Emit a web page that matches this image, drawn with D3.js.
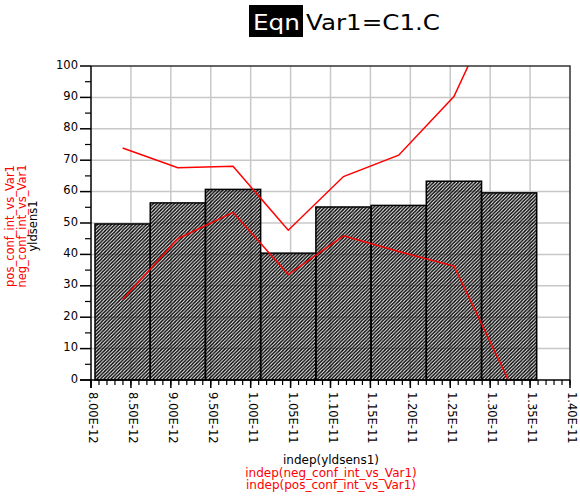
<!DOCTYPE html>
<html>
<head>
<meta charset="utf-8">
<script src="https://cdn.jsdelivr.net/npm/d3@7"></script>
<style>
  body { margin: 0; background: #fff; }
  svg { display: block; font-family: "DejaVu Sans", sans-serif; }
</style>
</head>
<body>
<div id="chart"></div>
<script>
  // histogram bins of yldsens1 (edges in seconds) and their counts
  var binEdges = [8.05e-12, 8.742e-12, 9.433e-12, 1.0125e-11, 1.0817e-11,
                  1.1508e-11, 1.2200e-11, 1.2892e-11, 1.3583e-11];
  var yldsens1 = [49.7, 56.4, 60.7, 40.4, 55.1, 55.6, 63.3, 59.6];
  // confidence intervals, one point per bin
  var posConf = [73.9, 67.6, 68.1, 47.7, 64.8, 71.6, 90.3, 128];
  var negConf = [25.6, 45.0, 53.4, 33.6, 45.9, 40.9, 36.3, -0.5];

  var xTicks = [8.0e-12, 8.5e-12, 9.0e-12, 9.5e-12, 1.0e-11, 1.05e-11, 1.1e-11,
                1.15e-11, 1.2e-11, 1.25e-11, 1.3e-11, 1.35e-11, 1.4e-11];
  var xTickLabels = ['8.00E-12', '8.50E-12', '9.00E-12', '9.50E-12', '1.00E-11', '1.05E-11',
                     '1.10E-11', '1.15E-11', '1.20E-11', '1.25E-11', '1.30E-11', '1.35E-11', '1.40E-11'];
  var yTicks = [0, 10, 20, 30, 40, 50, 60, 70, 80, 90, 100];

  (function () {
    var width = 580, height = 497;
    var pLeft = 91, pRight = 570, pTop = 66, pBottom = 380;

    var x = d3.scaleLinear().domain([8e-12, 1.4e-11]).range([pLeft, pRight]);
    var y = d3.scaleLinear().domain([0, 100]).range([pBottom, pTop]);

    var svg = d3.select('#chart').append('svg')
      .attr('width', width)
      .attr('height', height);

    var defs = svg.append('defs');
    defs.append('pattern')
      .attr('id', 'hatch')
      .attr('patternUnits', 'userSpaceOnUse')
      .attr('width', 3.5)
      .attr('height', 3.5)
      .append('path')
        .attr('d', 'M-1,1 l2,-2 M0,3.5 l3.5,-3.5 M2.5,4.5 l2,-2')
        .attr('stroke', '#000')
        .attr('stroke-width', 1.4);
    defs.append('clipPath')
      .attr('id', 'plotclip')
      .append('rect')
        .attr('x', pLeft).attr('y', pTop)
        .attr('width', pRight - pLeft).attr('height', pBottom - pTop);

    // title
    var title = svg.append('g');
    title.append('rect')
      .attr('x', 249).attr('y', 5).attr('width', 54).attr('height', 32)
      .attr('fill', '#000');
    title.append('text')
      .attr('x', 253).attr('y', 30)
      .attr('font-size', '22px')
      .attr('fill', '#fff')
      .attr('textLength', 47)
      .attr('lengthAdjust', 'spacingAndGlyphs')
      .text('Eqn');
    title.append('text')
      .attr('x', 306).attr('y', 30)
      .attr('font-size', '22px')
      .attr('fill', '#000')
      .attr('textLength', 134)
      .attr('lengthAdjust', 'spacingAndGlyphs')
      .text('Var1=C1.C');

    // grid
    svg.append('g').selectAll('line')
      .data(xTicks.slice(1, -1))
      .enter().append('line')
        .attr('x1', function(d) { return x(d); })
        .attr('x2', function(d) { return x(d); })
        .attr('y1', pTop).attr('y2', pBottom)
        .attr('stroke', '#c8c8c8').attr('stroke-width', 1.5);
    svg.append('g').selectAll('line')
      .data(yTicks.slice(1, -1))
      .enter().append('line')
        .attr('x1', pLeft).attr('x2', pRight)
        .attr('y1', function(d) { return y(d); })
        .attr('y2', function(d) { return y(d); })
        .attr('stroke', '#c8c8c8').attr('stroke-width', 1.5);

    // histogram bars
    svg.append('g').selectAll('rect')
      .data(yldsens1)
      .enter().append('rect')
        .attr('x', function(d, i) { return x(binEdges[i]); })
        .attr('width', function(d, i) { return x(binEdges[i + 1]) - x(binEdges[i]); })
        .attr('y', function(d) { return y(d); })
        .attr('height', function(d) { return y(0) - y(d); })
        .attr('fill', 'url(#hatch)')
        .attr('stroke', '#000')
        .attr('stroke-width', 1.5);

    // confidence lines, one point at each bin centre
    var centers = binEdges.slice(0, -1).map(function(e, i) { return (e + binEdges[i + 1]) / 2; });
    var line = d3.line()
      .x(function(d, i) { return x(centers[i]); })
      .y(function(d) { return y(d); });
    var lines = svg.append('g').attr('clip-path', 'url(#plotclip)');
    [posConf, negConf].forEach(function(s) {
      lines.append('path')
        .attr('d', line(s))
        .attr('fill', 'none')
        .attr('stroke', '#ff0000')
        .attr('stroke-width', 1.5);
    });

    // frame
    svg.append('path')
      .attr('d', 'M' + pLeft + ',' + pTop + 'H' + pRight + 'V' + pBottom)
      .attr('fill', 'none')
      .attr('stroke', '#333')
      .attr('stroke-width', 1.5);

    // y axis
    var yAxis = svg.append('g');
    yAxis.append('line')
      .attr('x1', pLeft).attr('x2', pLeft).attr('y1', pTop).attr('y2', pBottom + 8)
      .attr('stroke', '#000').attr('stroke-width', 1.5);
    yAxis.selectAll('.minor')
      .data(d3.range(5, 100, 10))
      .enter().append('line')
        .attr('class', 'minor')
        .attr('x1', pLeft - 6).attr('x2', pLeft)
        .attr('y1', function(d) { return y(d); })
        .attr('y2', function(d) { return y(d); })
        .attr('stroke', '#000').attr('stroke-width', 1.2);
    yAxis.selectAll('.major')
      .data(yTicks)
      .enter().append('line')
        .attr('class', 'major')
        .attr('x1', pLeft - 11).attr('x2', pLeft)
        .attr('y1', function(d) { return y(d); })
        .attr('y2', function(d) { return y(d); })
        .attr('stroke', '#000').attr('stroke-width', 1.5);
    yAxis.selectAll('text')
      .data(yTicks)
      .enter().append('text')
        .attr('x', 78)
        .attr('y', function(d) { return y(d) + 2.5; })
        .attr('text-anchor', 'end')
        .attr('font-size', '11.5px')
        .text(function(d) { return d; });

    // x axis
    var xAxis = svg.append('g');
    xAxis.append('line')
      .attr('x1', pLeft - 11).attr('x2', pRight).attr('y1', pBottom).attr('y2', pBottom)
      .attr('stroke', '#000').attr('stroke-width', 1.5);
    xAxis.selectAll('.minor')
      .data(d3.range(0, 61))
      .enter().append('line')
        .attr('class', 'minor')
        .attr('x1', function(d) { return x(8e-12 + d * 1e-13); })
        .attr('x2', function(d) { return x(8e-12 + d * 1e-13); })
        .attr('y1', pBottom).attr('y2', pBottom + 5)
        .attr('stroke', '#000').attr('stroke-width', 1.2);
    xAxis.selectAll('.major')
      .data(xTicks)
      .enter().append('line')
        .attr('class', 'major')
        .attr('x1', function(d) { return x(d); })
        .attr('x2', function(d) { return x(d); })
        .attr('y1', pBottom).attr('y2', pBottom + 8)
        .attr('stroke', '#000').attr('stroke-width', 1.5);
    xAxis.selectAll('text')
      .data(xTicks)
      .enter().append('text')
        .attr('transform', function(d) { return 'translate(' + (x(d) - 2) + ',' + 392 + ') rotate(90)'; })
        .attr('font-size', '11.5px')
        .text(function(d, i) { return xTickLabels[i]; });

    // axis titles
    var yTitles = [['pos_conf_int_vs_Var1', '#ff0000'], ['neg_conf_int_vs_Var1', '#ff0000'], ['yldsens1', '#000']];
    yTitles.forEach(function(t, i) {
      svg.append('text')
        .attr('transform', 'translate(' + (14 + i * 11.5) + ',' + 226 + ') rotate(-90)')
        .attr('text-anchor', 'middle')
        .attr('font-size', '11.5px')
        .attr('fill', t[1])
        .text(t[0]);
    });
    var xTitles = [['indep(yldsens1)', '#000'], ['indep(neg_conf_int_vs_Var1)', '#ff0000'],
                   ['indep(pos_conf_int_vs_Var1)', '#ff0000']];
    xTitles.forEach(function(t, i) {
      svg.append('text')
        .attr('x', 331)
        .attr('y', 464 + i * 12.5)
        .attr('text-anchor', 'middle')
        .attr('font-size', '12px')
        .attr('fill', t[1])
        .text(t[0]);
    });
  }());
</script>
</body>
</html>
